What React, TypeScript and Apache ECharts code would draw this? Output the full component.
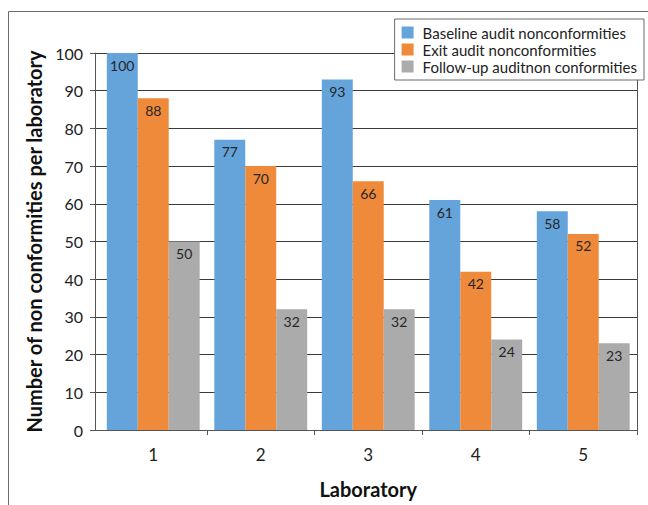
import React, { useEffect, useRef } from "react";
import * as echarts from "echarts";

const categories = ["1", "2", "3", "4", "5"];
const baseline = [100, 77, 93, 61, 58];
const exitAudit = [88, 70, 66, 42, 52];
const followUp = [50, 32, 32, 24, 23];
const seriesNames = [
  "Baseline audit nonconformities",
  "Exit audit nonconformities",
  "Follow-up auditnon conformities",
];
const colors = ["#65A3DB", "#EF8A3B", "#ABABAB"];

const FONT = "Lato, 'Open Sans', sans-serif";
const AXIS_COLOR = "#555";

export default function App() {
  const ref = useRef<HTMLDivElement>(null);

  useEffect(() => {
    if (!ref.current) return;
    const chart = echarts.init(ref.current, null, { renderer: "svg" });
    const label = {
      show: true,
      position: "insideTop" as const,
      distance: 5,
      color: "#262626",
      fontSize: 14,
      fontFamily: FONT,
    };
    const values = [baseline, exitAudit, followUp];
    chart.setOption({
      animation: false,
      textStyle: { fontFamily: FONT },
      graphic: [
        {
          type: "rect",
          shape: { x: 8.5, y: 11.5, width: 700, height: 600 },
          style: { fill: "none", stroke: "#6b6b6b", lineWidth: 1 },
          silent: true,
        },
      ],
      // grid 0 carries the value axis and gridlines, grid 1 carries the bars
      grid: [
        { left: 95, right: 11, top: 53, bottom: 75 },
        { left: 99.5, right: 11, top: 53, bottom: 75 },
      ],
      legend: {
        orient: "vertical",
        right: 4,
        top: 19,
        padding: [6, 7, 6, 7],
        backgroundColor: "#fff",
        borderColor: "#6b6b6b",
        borderWidth: 1,
        itemWidth: 12,
        itemHeight: 12,
        itemGap: 2,
        icon: "rect",
        textStyle: { fontSize: 15, lineHeight: 15, color: "#222", fontFamily: FONT, padding: [0, 0, 0, 4] },
        data: seriesNames,
        z: 10,
      },
      xAxis: [
        {
          type: "value",
          gridIndex: 0,
          min: 0,
          max: 1,
          axisLine: { show: true, onZero: false, lineStyle: { color: AXIS_COLOR, width: 1 } },
          axisTick: { show: false },
          axisLabel: { show: false },
          splitLine: { show: false },
        },
        {
          type: "category",
          gridIndex: 1,
          data: categories,
          name: "Laboratory",
          nameLocation: "middle",
          nameGap: 49,
          nameTextStyle: { fontSize: 20, fontWeight: "bold", color: "#111", fontFamily: FONT },
          axisLine: { show: false },
          axisTick: {
            show: true,
            length: 5,
            interval: (i: number) => i > 0,
            lineStyle: { color: AXIS_COLOR },
          },
          axisLabel: { fontSize: 17, color: "#222", margin: 16, fontFamily: FONT },
        },
      ],
      yAxis: [
        {
          type: "value",
          gridIndex: 0,
          min: 0,
          max: 100,
          interval: 10,
          name: "Number of non conformities per laboratory",
          nameLocation: "middle",
          nameGap: 50,
          nameTextStyle: { fontSize: 20, fontWeight: "bold", color: "#111", fontFamily: FONT },
          axisLine: { show: true, lineStyle: { color: AXIS_COLOR, width: 1 } },
          axisTick: { show: true, inside: false, length: 5, lineStyle: { color: AXIS_COLOR } },
          axisLabel: { fontSize: 16, color: "#222", margin: 12, fontFamily: FONT },
          splitLine: { show: true, lineStyle: { color: "#3a3a3a", width: 1 } },
        },
        {
          type: "value",
          gridIndex: 1,
          position: "right",
          min: 0,
          max: 100,
          interval: 10,
          axisLine: { show: true, lineStyle: { color: AXIS_COLOR, width: 1 } },
          axisTick: { show: false },
          axisLabel: { show: false },
          splitLine: { show: false },
        },
      ],
      series: seriesNames.map((name, i) => ({
        name,
        type: "bar",
        xAxisIndex: 1,
        yAxisIndex: 1,
        data: values[i],
        barGap: "0%",
        barCategoryGap: "13.6%",
        itemStyle: { color: colors[i] },
        label,
      })),
    });
    return () => chart.dispose();
  }, []);

  return (
    <div
      ref={ref}
      style={{ position: "fixed", left: 0, top: 0, width: 648, height: 505, background: "#fff" }}
    />
  );
}
